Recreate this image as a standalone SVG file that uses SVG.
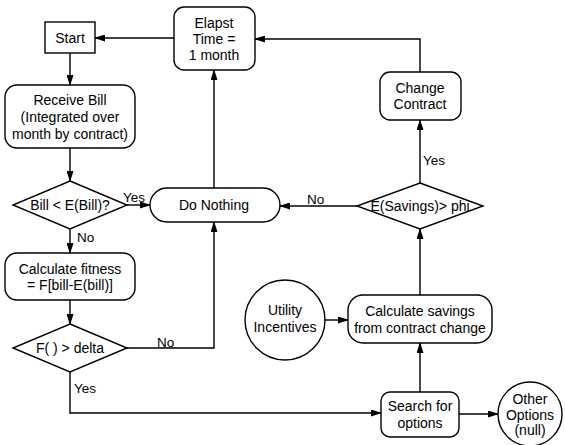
<svg xmlns="http://www.w3.org/2000/svg" width="565" height="445" viewBox="0 0 565 445">
<defs>
<marker id="ah" markerWidth="11" markerHeight="7" refX="10" refY="3.5" orient="auto" markerUnits="userSpaceOnUse">
<path d="M0,0 L11,3.5 L0,7 Z" fill="#000"/>
</marker>
<style>
.n{fill:#fff;stroke:#000;stroke-width:1.4}
.c{fill:none;stroke:#000;stroke-width:1.4;marker-end:url(#ah)}
text{font-family:"Liberation Sans",Arial,sans-serif;font-size:14px;fill:#000;text-anchor:middle}
.l{font-size:13.5px;text-anchor:start}
</style>
</defs>
<rect width="565" height="445" fill="#fff"/>
<g id="connectors">
<path class="c" d="M70,53 V85"/>
<path class="c" d="M175,38 H95"/>
<path class="c" d="M70,148 V181"/>
<path class="c" d="M127,205 H150"/>
<path class="c" d="M70,229 V253"/>
<path class="c" d="M70,300 V324"/>
<path class="c" d="M127,348 H214 V222"/>
<path class="c" d="M214,188 V70"/>
<path class="c" d="M70,372 V413 H381"/>
<path class="c" d="M420,392 V343"/>
<path class="c" d="M325,320 H348"/>
<path class="c" d="M420,295 V229"/>
<path class="c" d="M420,183 V120"/>
<path class="c" d="M420,72 V39 H255"/>
<path class="c" d="M357,206 H280"/>
<path class="c" d="M459,414 H498"/>
<text class="l" x="123" y="202">Yes</text>
<text class="l" x="77" y="242">No</text>
<text class="l" x="157" y="347">No</text>
<text class="l" x="74" y="393">Yes</text>
<text class="l" x="307" y="204">No</text>
<text class="l" x="423" y="165">Yes</text>
</g>
<g id="start">
<rect class="n" x="45" y="22" width="50" height="31"/>
<text x="70" y="43">Start</text>
</g>
<g id="elapst">
<rect class="n" x="174" y="7" width="81" height="63" rx="10"/>
<text x="214" y="28">Elapst</text>
<text x="214" y="44">Time =</text>
<text x="214" y="60">1 month</text>
</g>
<g id="receive-bill">
<rect class="n" x="5" y="85" width="130" height="63" rx="12"/>
<text x="70" y="105">Receive Bill</text>
<text x="70" y="122">(Integrated over</text>
<text x="70" y="139">month by contract)</text>
</g>
<g id="bill-check">
<polygon class="n" points="70,181 127,205 70,229 13,205"/>
<text x="70" y="210">Bill &lt; E(Bill)?</text>
</g>
<g id="do-nothing">
<rect class="n" x="150" y="188" width="130" height="34" rx="17"/>
<text x="214" y="210">Do Nothing</text>
</g>
<g id="fitness">
<rect class="n" x="5" y="253" width="130" height="47" rx="12"/>
<text x="70" y="274">Calculate fitness</text>
<text x="70" y="290">= F[bill-E(bill)]</text>
</g>
<g id="delta-check">
<polygon class="n" points="70,324 127,348 70,372 13,348"/>
<text x="70" y="353">F( ) &gt; delta</text>
</g>
<g id="change-contract">
<rect class="n" x="380" y="72" width="81" height="48" rx="10"/>
<text x="420" y="93">Change</text>
<text x="420" y="109">Contract</text>
</g>
<g id="savings-check">
<polygon class="n" points="420,183 483,206 420,229 357,206"/>
<text x="420" y="211">E(Savings)&gt; phi</text>
</g>
<g id="utility-incentives">
<circle class="n" cx="285" cy="320" r="40"/>
<text x="285" y="315">Utility</text>
<text x="285" y="332">Incentives</text>
</g>
<g id="calc-savings">
<rect class="n" x="348" y="295" width="144" height="48" rx="15"/>
<text x="420" y="316">Calculate savings</text>
<text x="420" y="333">from contract change</text>
</g>
<g id="search-options">
<rect class="n" x="381" y="392" width="78" height="45" rx="9"/>
<text x="420" y="411">Search for</text>
<text x="420" y="428">options</text>
</g>
<g id="other-options">
<circle class="n" cx="530" cy="414" r="32"/>
<text x="530" y="404">Other</text>
<text x="530" y="420">Options</text>
<text x="530" y="435">(null)</text>
</g>
</svg>
